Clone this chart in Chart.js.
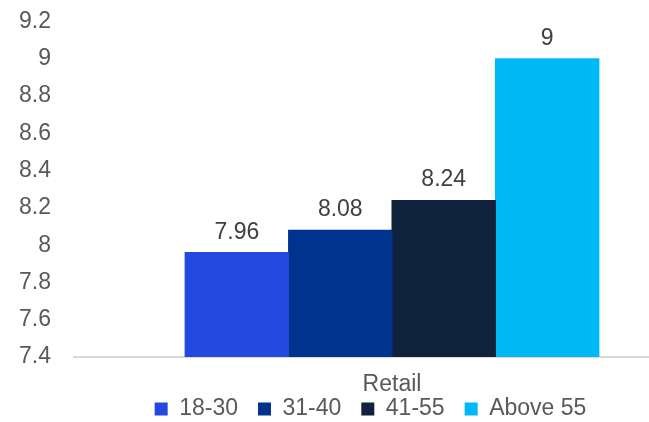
<!DOCTYPE html>
<html lang="en">
<head>
    <meta charset="UTF-8">
    <title>Retail by age group</title>
    <script src="https://cdn.jsdelivr.net/npm/chart.js"></script>
    <style>
        body {
            margin: 0;
            background: #ffffff;
            font-family: 'Liberation Sans', Arial, sans-serif;
        }
        .chart-container {
            width: 649px;
            height: 422px;
            position: relative;
        }
    </style>
</head>
<body>
    <div class="chart-container">
        <canvas id="retailChart"></canvas>
    </div>

    <script>
        // Data
        const categories = ["Retail"];
        const seriesNames = ["18-30", "31-40", "41-55", "Above 55"];
        const seriesValues = [[7.96], [8.08], [8.24], [9]];
        const seriesColors = ["#2249E0", "#00338D", "#0F233C", "#00B8F5"];

        const yMin = 7.4;
        const yMax = 9.2;
        const yStep = 0.2;

        const textColor = '#595959';
        const fontFamily = "'Liberation Sans', Arial, sans-serif";
        const fontSize = 23;

        // draws the value above each bar
        const valueLabels = {
            id: 'valueLabels',
            afterDatasetsDraw(chart) {
                const ctx = chart.ctx;
                ctx.save();
                ctx.font = fontSize + 'px ' + fontFamily;
                ctx.fillStyle = '#404040';
                ctx.textAlign = 'center';
                ctx.textBaseline = 'alphabetic';
                chart.data.datasets.forEach((ds, i) => {
                    const meta = chart.getDatasetMeta(i);
                    meta.data.forEach((bar, j) => {
                        ctx.fillText(String(ds.data[j]), bar.x, bar.y - 14);
                    });
                });
                ctx.restore();
            }
        };

        // legend sits tight under the category label and a bit right of centre
        const legendPlace = {
            id: 'legendPlace',
            beforeInit(chart) {
                const fit = chart.legend.fit;
                chart.legend.fit = function () {
                    fit.bind(chart.legend)();
                    this.height = 23;
                };
            },
            afterLayout(chart) {
                const lg = chart.legend;
                lg.left += 46;
                lg.right += 46;
                lg.top = chart.height - 44.5;
                lg.bottom = chart.height;
            }
        };

        const ctx = document.getElementById('retailChart').getContext('2d');
        new Chart(ctx, {
            type: 'bar',
            data: {
                labels: categories,
                datasets: seriesNames.map((name, i) => ({
                    label: name,
                    data: seriesValues[i],
                    backgroundColor: seriesColors[i],
                    borderWidth: 0,
                    inflateAmount: 0.5,
                    barPercentage: 1,
                    categoryPercentage: 0.805
                }))
            },
            options: {
                responsive: true,
                maintainAspectRatio: false,
                animation: false,
                layout: {
                    padding: 0
                },
                scales: {
                    y: {
                        min: yMin,
                        max: yMax,
                        afterFit(scale) {
                            scale.width = 135;
                            scale.paddingTop = 21.5;
                            scale.paddingBottom = 0;
                        },
                        ticks: {
                            stepSize: yStep,
                            padding: 22,
                            color: textColor,
                            font: { family: fontFamily, size: fontSize },
                            callback: v => String(Number(v.toFixed(1)))
                        },
                        grid: {
                            drawTicks: true,
                            tickLength: 62,
                            lineWidth: 2,
                            color: c => Math.abs(c.tick.value - yMin) < 1e-6 ? '#d9d9d9' : 'rgba(0,0,0,0)'
                        },
                        border: { display: false }
                    },
                    x: {
                        afterFit(scale) { scale.height = 42; },
                        grid: { display: false },
                        border: { display: false },
                        ticks: {
                            padding: 6,
                            color: textColor,
                            font: { family: fontFamily, size: fontSize }
                        }
                    }
                },
                plugins: {
                    legend: {
                        position: 'bottom',
                        labels: {
                            boxWidth: 13,
                            boxHeight: 13,
                            padding: 20,
                            color: textColor,
                            font: { family: fontFamily, size: fontSize }
                        }
                    },
                    tooltip: { enabled: false }
                }
            },
            plugins: [valueLabels, legendPlace]
        });
    </script>
</body>
</html>
